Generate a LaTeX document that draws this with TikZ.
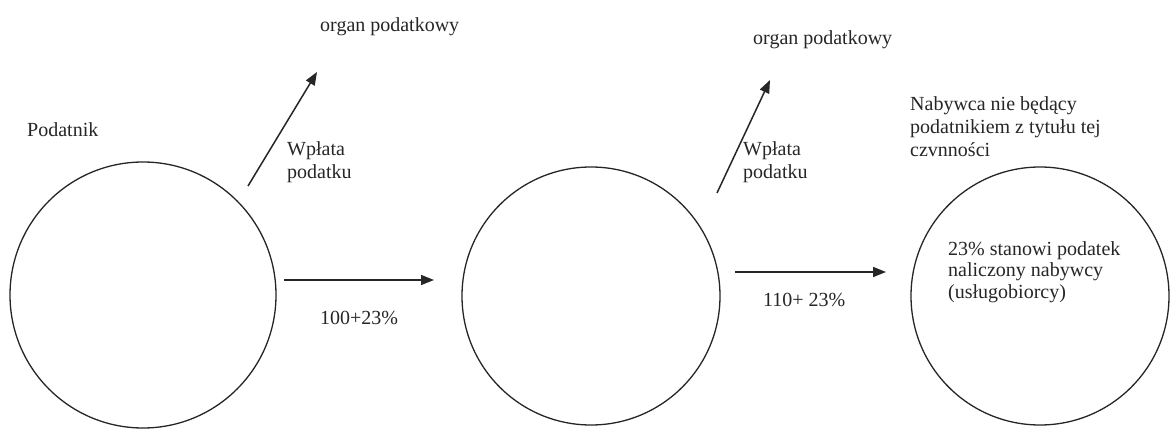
\documentclass[tikz,border=0pt]{standalone}
\usepackage{fontspec}
\setmainfont{Liberation Serif}
\usetikzlibrary{arrows.meta}
\begin{document}
\begin{tikzpicture}[x=1pt,y=-1pt,
  party/.style={draw=black!85,line width=1.3pt,circle,minimum size=#1,inner sep=0pt},
  flow/.style={draw=black!85,line width=1.5pt,-{Triangle[length=13pt,width=10pt]}},
  lbl/.style={font=\fontsize{20}{23}\selectfont,inner sep=0pt,text=black!85},
  mlbl/.style={lbl,align=left,anchor=north west}]
\useasboundingbox[fill=white] (0,0) rectangle (1170,430);
% circles
\node[party=266pt] (c1) at (143,295) {};
\node[party=258pt] (c2) at (591,296) {};
\node[party=258pt] (c3) at (1040,296) {};
% connector end points
\coordinate (h1s) at (284,280);
\coordinate (h1e) at (434,280);
\coordinate (h2s) at (735,272);
\coordinate (h2e) at (886,272);
\coordinate (d1s) at (248,186);
\coordinate (d1e) at (317,72);
\coordinate (d2s) at (717,193);
\coordinate (d2e) at (770,80);
\draw[flow] (h1s) -- (h1e);
\draw[flow] (h2s) -- (h2e);
\draw[flow] (d1s) -- (d1e);
\draw[flow] (d2s) -- (d2e);
% labels
\node[lbl,anchor=base west] (org1) at (320,32) {organ podatkowy};
\node[lbl,anchor=base west] (org2) at (753,45) {organ podatkowy};
\node[lbl,anchor=base west] (pod) at (27,137) {Podatnik};
\node[lbl,anchor=base west] (kw1) at (320,325) {100+23\%};
\node[lbl,anchor=base west] (kw2) at (763,307) {110+ 23\%};
\node[mlbl] (wp1) at (287,141) {Wpłata\\podatku};
\node[mlbl] (wp2) at (743,141) {Wpłata\\podatku};
\node[mlbl] (nab) at (910,96) {Nabywca nie będący\\podatnikiem z tytułu tej\\czvnności};
\node[mlbl,font=\fontsize{20}{21.5}\selectfont] (vat) at (948,241) {23\% stanowi podatek\\naliczony nabywcy\\(usługobiorcy)};
\end{tikzpicture}
\end{document}
